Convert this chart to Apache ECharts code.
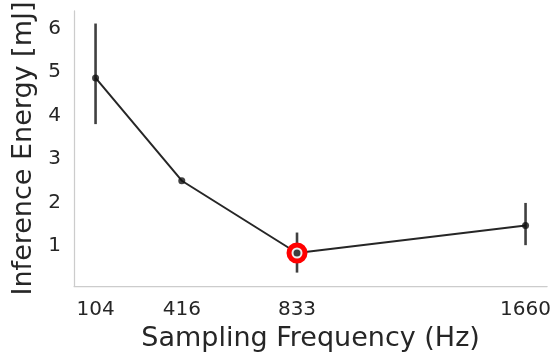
<!DOCTYPE html>
<html>
<head>
<meta charset="utf-8">
<script src="https://cdn.jsdelivr.net/npm/echarts@6/dist/echarts.min.js"></script>
<style>html,body{margin:0;padding:0;background:#fff}#c{width:554px;height:357px}</style>
</head>
<body>
<div id="c"></div>
<script>
var freqs = [104, 416, 833, 1660];
var energy = [4.86, 2.50, 0.84, 1.47];
var errLow = [3.80, 2.50, 0.39, 1.02];
var errHigh = [6.11, 2.50, 1.31, 1.99];
var xTicks = [104, 416, 833, 1660];
var yTicks = [1, 2, 3, 4, 5, 6];
var highlight = [833, 0.84];

var font = 'DejaVu Sans';
var lineData = freqs.map(function (f, i) { return [f, energy[i]]; });
var errData = freqs.map(function (f, i) { return [f, errLow[i], errHigh[i]]; });

var chart = echarts.init(document.getElementById('c'), null, {renderer: 'canvas'});
chart.setOption({
  animation: false,
  backgroundColor: '#fff',
  grid: {left: 74, right: 6, top: 7, bottom: 68},
  xAxis: {
    type: 'value', min: 26, max: 1738,
    name: 'Sampling Frequency (Hz)', nameLocation: 'middle', nameGap: 38,
    nameTextStyle: {fontFamily: font, fontSize: 27, color: '#262626'},
    axisLine: {show: true, lineStyle: {color: '#cccccc', width: 1.25}},
    axisTick: {show: false},
    splitLine: {show: false},
    axisLabel: {customValues: xTicks, fontFamily: font, fontSize: 20, color: '#262626', margin: 14,
      formatter: function (v) { return String(v); }}
  },
  yAxis: {
    type: 'value', min: 0.08, max: 6.40,
    name: 'Inference Energy [mJ]', nameLocation: 'middle', nameGap: 31,
    nameTextStyle: {fontFamily: font, fontSize: 27, color: '#262626'},
    axisLine: {show: true, lineStyle: {color: '#cccccc', width: 1.25}},
    axisTick: {show: false},
    splitLine: {show: false},
    axisLabel: {customValues: yTicks, fontFamily: font, fontSize: 20, color: '#262626', margin: 13,
      formatter: function (v) { return String(v); }}
  },
  series: [
    {
      type: 'custom',
      data: errData,
      z: 2,
      renderItem: function (params, api) {
        var x = api.value(0);
        var p1 = api.coord([x, api.value(1)]);
        var p2 = api.coord([x, api.value(2)]);
        return {type: 'line', shape: {x1: p1[0], y1: p1[1], x2: p2[0], y2: p2[1]},
          style: {stroke: '#404040', lineWidth: 2.6}};
      }
    },
    {
      type: 'line',
      data: lineData,
      z: 3,
      symbol: 'none',
      lineStyle: {color: '#262626', width: 2}
    },
    {
      type: 'scatter',
      data: [highlight],
      z: 4,
      symbol: 'circle',
      symbolSize: 16,
      itemStyle: {color: '#eeeeee', borderColor: '#ff0000', borderWidth: 5, opacity: 1}
    },
    {
      type: 'scatter',
      data: lineData,
      z: 5,
      symbol: 'circle',
      symbolSize: 7,
      itemStyle: {color: '#111111'}
    }
  ]
});
</script>
</body>
</html>
